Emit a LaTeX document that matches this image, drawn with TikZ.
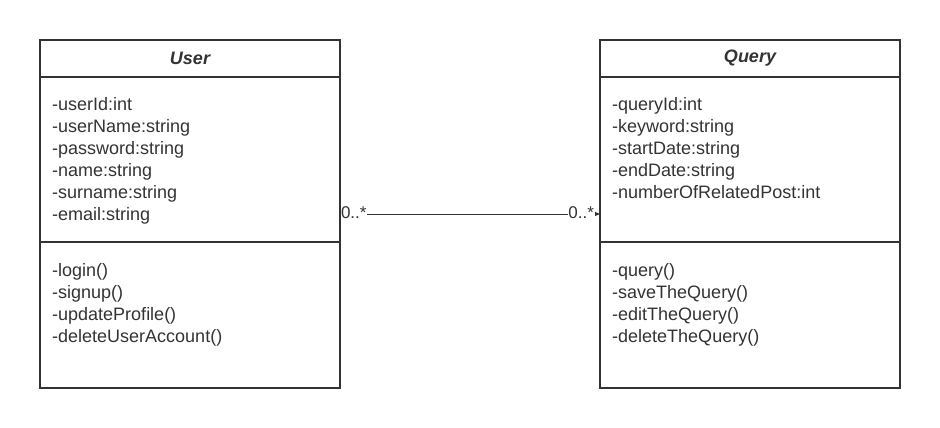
\documentclass[tikz,border=0pt]{standalone}
\usepackage{fontspec}
\setmainfont{Liberation Sans}
\usetikzlibrary{arrows.meta,positioning}
\definecolor{umlgray}{HTML}{333333}

\begin{document}
\begin{tikzpicture}[
    x=1pt,
    y=-1pt,
    font=\fontsize{18}{22}\selectfont,
    every node/.style={text=umlgray},
    classbox/.style={
        draw=umlgray,
        line width=1.8pt,
        minimum width=300pt,
        minimum height=348pt,
        inner sep=0pt,
        outer sep=0pt
    },
    titlebox/.style={
        classbox,
        minimum height=37pt,
        font=\fontsize{18}{20}\selectfont\bfseries\itshape
    },
    attrbox/.style={
        classbox,
        minimum height=165pt
    },
    members/.style={
        align=left,
        anchor=north west,
        inner sep=0pt
    },
    mult/.style={
        fill=white,
        inner sep=0.5pt,
        font=\fontsize{17}{18}\selectfont
    },
    assoc/.style={
        -{Triangle[length=5pt,width=4pt]},
        draw=umlgray,
        line width=1pt
    }
]
    \useasboundingbox (0,0) rectangle (940,428);

    % Klasse User
    \node[classbox] (user) at (190,214) {};
    \node[titlebox, anchor=north] (userTitle) at (user.north) {User};
    \node[attrbox, anchor=north] (userAttrs) at (userTitle.south) {};
    \node[members, below right=20pt and 12pt of userAttrs.north west] (userFields)
        {-userId:int\\
        -userName:string\\
        -password:string\\
        -name:string\\
        -surname:string\\
        -email:string};
    \node[members, below right=21pt and 12pt of userAttrs.south west] (userMethods)
        {-login()\\
        -signup()\\
        -updateProfile()\\
        -deleteUserAccount()};

    % Klasse Query
    \node[classbox] (query) at (750,214) {};
    \node[titlebox, anchor=north] (queryTitle) at (query.north) {Query};
    \node[attrbox, anchor=north] (queryAttrs) at (queryTitle.south) {};
    \node[members, below right=20pt and 12pt of queryAttrs.north west] (queryFields)
        {-queryId:int\\
        -keyword:string\\
        -startDate:string\\
        -endDate:string\\
        -numberOfRelatedPost:int};
    \node[members, below right=21pt and 12pt of queryAttrs.south west] (queryMethods)
        {-query()\\
        -saveTheQuery()\\
        -editTheQuery()\\
        -deleteTheQuery()};

    % Assoziation
    \draw[assoc]
        (user.east) -- (query.west)
        node[mult, pos=0, anchor=west, yshift=1pt] {0..*}
        node[mult, pos=1, anchor=east, xshift=-5pt, yshift=1pt] {0..*};
\end{tikzpicture}
\end{document}
